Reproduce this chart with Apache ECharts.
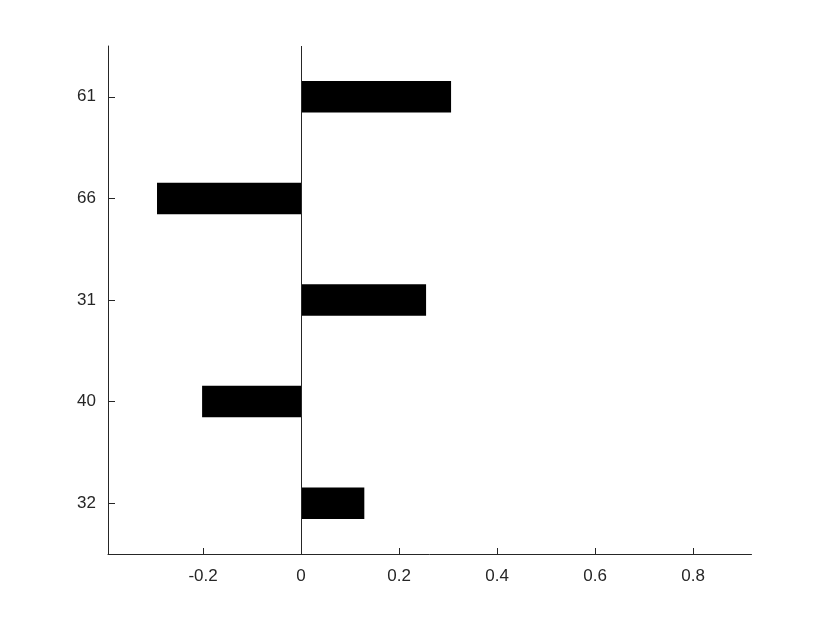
<!DOCTYPE html>
<html>
<head>
<meta charset="utf-8">
<script src="https://cdn.jsdelivr.net/npm/echarts@6/dist/echarts.min.js"></script>
<style>html,body{margin:0;padding:0;background:#fff;}#c{width:830px;height:623px;}</style>
</head>
<body>
<div id="c"></div>
<script>
// categories listed top to bottom
var categories = ['61', '66', '31', '40', '32'];
var values = [0.306, -0.294, 0.255, -0.202, 0.129];
var xTicks = [-0.2, 0, 0.2, 0.4, 0.6, 0.8];
var xMin = -0.394;
var xMax = 0.919;

var chart = echarts.init(document.getElementById('c'));
var axisColor = '#262626';
chart.setOption({
  animation: false,
  backgroundColor: '#ffffff',
  grid: { left: 108, right: 78.5, top: 46, bottom: 69, containLabel: false },
  xAxis: {
    type: 'value',
    min: xMin,
    max: xMax,
    splitLine: { show: false },
    axisLine: { show: true, onZero: false, lineStyle: { color: axisColor, width: 1 } },
    axisTick: { show: true, inside: true, length: 6, customValues: xTicks, lineStyle: { color: axisColor } },
    axisLabel: {
      customValues: xTicks,
      color: axisColor, fontSize: 17, fontFamily: 'Liberation Sans, Arial, sans-serif', margin: 14,
      formatter: function (v) { return String(Math.round(v * 10) / 10); }
    }
  },
  yAxis: {
    type: 'category',
    data: categories,
    inverse: true,
    axisLine: { show: true, onZero: false, lineStyle: { color: axisColor, width: 1 } },
    axisTick: { show: true, inside: true, length: 7, alignWithLabel: true, lineStyle: { color: axisColor } },
    axisLabel: { color: axisColor, fontSize: 17, fontFamily: 'Liberation Sans, Arial, sans-serif', margin: 12 },
    splitLine: { show: false }
  },
  series: [{
    type: 'bar',
    data: values,
    barWidth: '31%',
    itemStyle: { color: '#000000' },
    markLine: {
      silent: true,
      symbol: 'none',
      label: { show: false },
      lineStyle: { color: axisColor, width: 1, type: 'solid' },
      data: [{ xAxis: 0 }]
    }
  }]
});
</script>
</body>
</html>
